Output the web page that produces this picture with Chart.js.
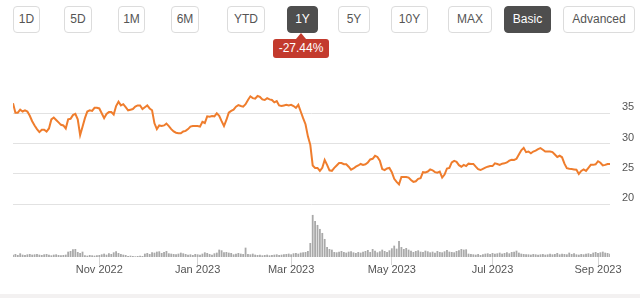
<!DOCTYPE html>
<html>
<head>
<meta charset="utf-8">
<script src="https://cdn.jsdelivr.net/npm/chart.js@4.4.0/dist/chart.umd.min.js"></script>
<style>
  body { margin: 0; width: 640px; height: 298px; background: #fff; position: relative; overflow: hidden;
         font-family: "Liberation Sans", Arial, sans-serif; }
  .btn { position: absolute; top: 6px; height: 27px; box-sizing: border-box; border: 1px solid #dcdcdc;
         border-radius: 4px; font-size: 12px; line-height: 25px; color: #555; text-align: center; background: #fff; }
  .btn.on { background: #4e4e4e; border-color: #4e4e4e; color: #fff; }
  .badge { position: absolute; left: 273px; top: 39px; width: 56px; height: 19px; background: #c33a2d; color: #fff;
           border-radius: 3px; font-size: 12px; line-height: 19px; text-align: center; }
  .badge:before { content: ""; position: absolute; left: 23px; top: -6px; border-left: 5px solid transparent;
                  border-right: 5px solid transparent; border-bottom: 6px solid #c33a2d; }
  .foot { position: absolute; left: 0; top: 294px; width: 640px; height: 4px; background: #f3f1f1; }
  #c { position: absolute; left: 0; top: 70px; }
</style>
</head>
<body>
<div class="btn" style="left:13px;width:27px">1D</div>
<div class="btn" style="left:64px;width:28px">5D</div>
<div class="btn" style="left:118px;width:27px">1M</div>
<div class="btn" style="left:171px;width:28px">6M</div>
<div class="btn" style="left:227px;width:38px">YTD</div>
<div class="btn on" style="left:287px;width:31px">1Y</div>
<div class="btn" style="left:338px;width:32px">5Y</div>
<div class="btn" style="left:391px;width:37px">10Y</div>
<div class="btn" style="left:448px;width:44px">MAX</div>
<div class="btn on" style="left:504px;width:47px">Basic</div>
<div class="btn" style="left:563px;width:72px">Advanced</div>
<div class="badge">-27.44%</div>
<canvas id="c" width="640" height="210"></canvas>
<div class="foot"></div>
<script>
// daily closes, one per trading day (Sep 2022 - Sep 2023)
var prices = [
  36.65, 35.1, 35.1, 35.6, 35.3, 35.5, 35.3, 34.6, 33.7, 33.0,
  32.4, 31.9, 32.3, 32.3, 32.0, 32.5, 34.0, 34.3, 33.9, 33.5,
  33.1, 33.0, 32.5, 34.0, 34.1, 34.7, 34.9, 34.0, 31.4, 32.8,
  34.2, 35.3, 35.5, 35.4, 35.9, 35.9, 35.8, 35.0, 34.2, 34.9,
  35.2, 35.2, 34.8, 36.2, 36.9, 36.3, 36.5, 36.0, 35.5, 35.6,
  35.7, 36.1, 36.3, 36.3, 35.7, 36.0, 36.3, 35.8, 35.5, 33.35,
  32.4, 33.0, 32.9, 33.0, 33.3, 32.9, 32.4, 32.0, 31.8, 31.7,
  31.7, 32.0, 32.1, 32.4, 32.8, 32.9, 32.9, 32.9, 32.8, 33.6,
  33.4, 34.5, 34.45, 34.55, 34.5, 35.0, 34.6, 33.7, 32.9, 33.9,
  35.1, 35.4, 35.6, 36.1, 36.35, 36.2, 36.1, 36.5, 37.2, 37.8,
  37.5, 37.4, 37.85, 37.7, 37.3, 37.2, 37.5, 37.3, 37.2, 36.8,
  37.0, 36.3, 36.2, 36.3, 36.4, 36.3, 36.4, 36.2, 35.9, 36.4,
  35.3, 34.2, 33.2, 31.2, 29.8, 26.4, 26.0, 26.0, 25.5, 26.0,
  27.3, 26.5, 25.6, 25.5, 26.0, 26.4, 26.8, 26.8, 26.6, 26.6,
  26.2, 25.7, 25.9, 26.2, 26.4, 26.65, 26.5, 26.6, 26.9, 27.4,
  27.5, 28.0, 27.8, 27.2, 25.8, 25.65, 25.9, 26.0, 25.3, 24.2,
  23.7, 23.3, 24.5, 24.5, 24.5, 24.4, 24.0, 23.7, 23.8, 24.2,
  24.3, 25.3, 25.25, 25.4, 25.75, 25.6, 25.3, 25.2, 25.4, 24.4,
  24.9, 25.9, 26.0, 26.9, 27.15, 27.0, 26.45, 26.2, 26.5, 26.3,
  26.7, 26.65, 26.65, 26.2, 25.8, 25.65, 25.85, 26.05, 26.2, 26.3,
  26.3, 26.75, 26.65, 26.5, 26.7, 26.75, 26.9, 27.2, 27.35, 27.3,
  27.5, 28.2, 28.9, 29.3, 28.6, 28.7, 28.4, 28.7, 28.85, 29.1,
  29.25, 29.0, 28.7, 28.7, 28.7, 28.6, 28.2, 27.8, 28.0, 27.75,
  26.7, 25.95, 25.85, 25.8, 25.75, 25.7, 25.0, 25.5, 25.75, 25.5,
  26.0, 26.5, 26.5, 26.6, 27.1, 26.85, 26.4, 26.5, 26.65, 26.65
];

// daily volume, millions
var volumes = [
  0.7, 0.9, 0.6, 1.1, 0.7, 0.6, 0.8, 0.9, 0.7, 0.8,
  0.9, 0.7, 0.6, 0.8, 0.9, 0.7, 0.5, 0.7, 0.8, 0.6,
  0.5, 0.6, 0.7, 1.6, 1.8, 2.3, 2.4, 1.5, 1.2, 1.6,
  0.5, 0.4, 0.6, 0.5, 0.4, 0.5, 0.6, 0.8, 1.0, 0.7,
  1.1, 0.9, 1.4, 1.7, 1.2, 0.9, 0.7, 0.6, 0.3, 0.4,
  0.3, 0.2, 0.3, 0.4, 0.3, 1.0, 1.2, 0.9, 1.4, 1.3,
  1.6, 1.7, 1.2, 1.5, 1.8, 1.1, 1.0, 0.9, 0.8, 1.0,
  1.3, 1.1, 0.9, 0.7, 0.8, 0.6, 0.9, 0.8, 0.7, 1.0,
  1.4, 1.2, 0.9, 0.7, 1.1, 1.3, 2.2, 2.0, 1.4, 1.5,
  1.3, 1.2, 0.8, 1.0, 1.2, 1.0, 0.9, 2.8, 0.9, 0.8,
  1.0, 0.7, 0.6, 0.7, 0.5, 0.6, 0.7, 0.5, 0.6, 0.7,
  0.8, 0.6, 0.7, 0.8, 0.9, 1.0, 0.8, 1.1, 1.2, 1.0,
  1.3, 1.4, 1.5, 1.8, 4.2, 12.6, 10.8, 9.6, 8.4, 7.2,
  5.4, 3.0, 2.4, 2.2, 1.5, 1.4, 1.6, 1.8, 1.5, 1.3,
  1.6, 1.7, 1.4, 1.2, 1.5, 1.3, 1.6, 1.8, 2.1, 1.5,
  2.4, 1.9, 1.4, 1.7, 2.2, 1.8, 1.5, 2.0, 2.6, 3.4,
  2.5, 4.8, 3.0, 2.4, 2.7, 2.2, 1.9, 1.5, 1.8, 2.0,
  1.6, 1.5, 1.9, 1.7, 1.4, 1.6, 1.3, 1.8, 1.5, 1.4,
  1.7, 2.1, 1.6, 1.5, 1.4, 1.8, 2.0, 2.4, 2.2, 2.3,
  1.0, 0.9, 0.8, 0.7, 0.9, 0.6, 0.8, 1.0, 1.1, 0.9,
  1.2, 1.0, 1.1, 1.3, 1.0, 1.2, 1.4, 1.1, 1.5, 1.6,
  1.9, 1.3, 1.0, 0.9, 0.8, 0.8, 0.7, 0.9, 0.8, 0.7,
  0.8, 0.9, 0.7, 0.8, 1.0, 0.8, 0.9, 1.2, 0.8, 1.0,
  0.9, 0.8, 1.3, 0.9, 1.1, 0.8, 0.7, 0.9, 0.8, 1.0,
  1.1, 0.9, 1.3, 1.5, 1.2, 1.4, 1.6, 1.3, 1.2, 1.0
];

var tickDays = [36, 77, 116, 158, 200, 244];
var tickLabels = ['Nov 2022', 'Jan 2023', 'Mar 2023', 'May 2023', 'Jul 2023', 'Sep 2023'];
var priceTicks = [20, 25, 30, 35];

var ctx = document.getElementById('c');
var myChart = new Chart(ctx, {
  type: 'bar',
  data: {
    datasets: [
      {
        type: 'line',
        data: prices.map(function (v, i) { return { x: i, y: v }; }),
        yAxisID: 'y',
        borderColor: '#ef7d2d',
        borderWidth: 2,
        pointRadius: 0,
        tension: 0,
        order: 0
      },
      {
        type: 'bar',
        data: volumes.map(function (v, i) { return { x: i, y: v }; }),
        yAxisID: 'yv',
        backgroundColor: '#a9a9a9',
        barPercentage: 0.75,
        categoryPercentage: 1,
        order: 1
      }
    ]
  },
  options: {
    responsive: false,
    animation: false,
    layout: { padding: { left: 13, top: 0, right: 0, bottom: 0 } },
    plugins: { legend: { display: false }, tooltip: { enabled: false } },
    scales: {
      x: {
        type: 'linear',
        min: 0,
        max: prices.length - 1,
        offset: false,
        border: { display: false },
        grid: { offset: false, drawOnChartArea: false, tickLength: 8, color: '#d6d6d6' },
        ticks: {
          autoSkip: false, maxRotation: 0, padding: -2, color: '#555',
          font: { size: 11, family: '"Liberation Sans", Arial, sans-serif' },
          callback: function (v) { return tickLabels[tickDays.indexOf(v)]; }
        },
        afterBuildTicks: function (s) { s.ticks = tickDays.map(function (d) { return { value: d }; }); },
        afterFit: function (s) { s.height = 23; s.paddingLeft = 0; s.paddingRight = 0; }
      },
      y: {
        position: 'right',
        min: 11.31,
        max: 42.14,
        border: { display: false },
        grid: { drawTicks: false, color: '#e2e2e2', lineWidth: 1 },
        ticks: {
          padding: 12, labelOffset: -6, color: '#555',
          font: { size: 11, family: '"Liberation Sans", Arial, sans-serif' }
        },
        afterBuildTicks: function (s) { s.ticks = priceTicks.map(function (v) { return { value: v }; }); },
        afterFit: function (s) { s.width = 30; s.paddingTop = 0; s.paddingBottom = 0; }
      },
      yv: {
        display: false,
        min: 0,
        max: 56
      }
    }
  }
});
</script>
</body>
</html>
